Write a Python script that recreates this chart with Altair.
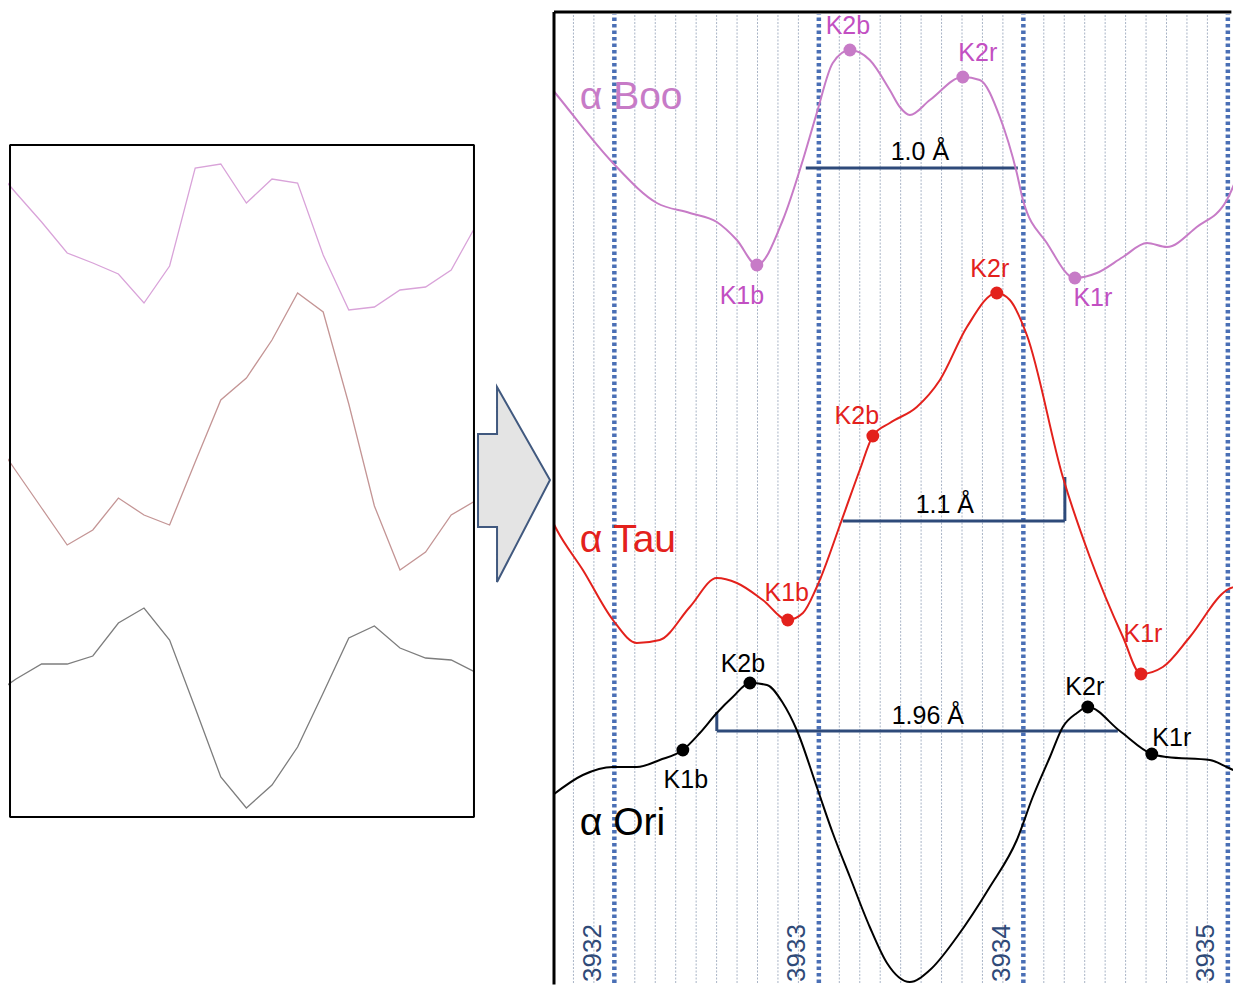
import altair as alt
import pandas as pd

FONT = "Liberation Sans"
H = 980
Y_DOMAIN = [0.10, 9.90]

# ---------------- left panel: coarse raw spectra (sample index, relative flux) ----------------
raw_k = list(range(-1, 19))
raw_boo = [8.35, 8.05, 7.76, 7.45, 7.35, 7.24, 6.95, 7.32, 8.30, 8.34,
           7.95, 8.19, 8.15, 7.43, 6.88, 6.91, 7.08, 7.11, 7.28, 7.74]
raw_tau = [5.64, 5.27, 4.90, 4.53, 4.68, 5.00, 4.83, 4.73, 5.36, 5.98,
           6.20, 6.58, 7.05, 6.86, 5.94, 4.92, 4.28, 4.46, 4.83, 4.98]
raw_ori = [3.01, 3.19, 3.34, 3.34, 3.42, 3.75, 3.90, 3.58, 2.90, 2.21,
           1.90, 2.13, 2.51, 3.05, 3.60, 3.72, 3.50, 3.40, 3.38, 3.25]
LEFT_X = [-0.3125, 17.93]
box_x = [-0.234, 17.89]
box_y = [1.81, 8.53]

# ---------------- arrow glyph (normalised outline) ----------------
ARROW_PATH = ("M -0.369 -0.518 L -0.174 -0.518 L -0.174 -1 L 0.369 -0.046 "
              "L -0.174 1 L -0.174 0.436 L -0.369 0.436 Z")
arrow_pos_x = [0.5]
arrow_pos_y = [5.135]

# ---------------- right panel: smoothed spectra (wavelength in Å, relative flux) ----------------
wl_boo = [3931.699, 3931.719, 3931.993, 3932.208, 3932.369, 3932.501, 3932.599, 3932.697,
          3932.824, 3932.922, 3932.990, 3933.068, 3933.152, 3933.249, 3933.347, 3933.396,
          3933.445, 3933.543, 3933.704, 3933.787, 3933.885, 3933.968, 3933.998, 3934.115,
          3934.252, 3934.359, 3934.487, 3934.604, 3934.702, 3934.848, 3934.995, 3935.073]
fx_boo = [9.08, 9.03, 8.35, 7.95, 7.85, 7.76, 7.58, 7.33,
          7.78, 8.38, 8.85, 9.35, 9.48, 9.38, 9.08, 8.91,
          8.83, 8.98, 9.21, 9.18, 8.81, 8.25, 7.98, 7.55,
          7.20, 7.25, 7.41, 7.55, 7.51, 7.71, 7.98, 8.36]

wl_tau = [3931.699, 3931.719, 3931.846, 3931.993, 3932.110, 3932.222, 3932.369, 3932.501,
          3932.599, 3932.726, 3932.848, 3932.922, 3932.990, 3933.112, 3933.200, 3933.264,
          3933.347, 3933.479, 3933.592, 3933.724, 3933.870, 3933.934, 3934.017, 3934.193,
          3934.325, 3934.487, 3934.575, 3934.682, 3934.814, 3934.995, 3935.073]
fx_tau = [4.76, 4.68, 4.28, 3.78, 3.55, 3.58, 3.91, 4.20,
          4.15, 3.98, 3.78, 3.85, 4.11, 4.78, 5.28, 5.62,
          5.75, 5.91, 6.18, 6.71, 7.05, 6.98, 6.63, 5.21,
          4.41, 3.61, 3.24, 3.31, 3.61, 4.08, 4.13]

wl_ori = [3931.699, 3931.846, 3931.993, 3932.110, 3932.222, 3932.335, 3932.418, 3932.501,
          3932.579, 3932.663, 3932.746, 3932.824, 3932.892, 3932.990, 3933.068, 3933.152,
          3933.249, 3933.333, 3933.445, 3933.543, 3933.675, 3933.836, 3933.968, 3934.046,
          3934.130, 3934.193, 3934.262, 3934.315, 3934.472, 3934.628,
          3934.702, 3934.912, 3934.995, 3935.073]
fx_ori = [2.03, 2.23, 2.31, 2.31, 2.38, 2.48, 2.65, 2.85,
          3.01, 3.15, 3.13, 2.95, 2.68, 2.11, 1.65, 1.21,
          0.71, 0.35, 0.16, 0.28, 0.61, 1.11, 1.58, 2.01,
          2.41, 2.71, 2.85, 2.91, 2.67, 2.44,
          2.41, 2.38, 2.31, 2.23]

k_names = ["K1b", "K2b", "K2r", "K1r"]
k_boo_wl = [3932.697, 3933.152, 3933.704, 3934.252]
k_boo_fx = [7.33, 9.48, 9.21, 7.20]
k_tau_wl = [3932.848, 3933.264, 3933.870, 3934.575]
k_tau_fx = [3.78, 5.62, 7.05, 3.24]
k_ori_wl = [3932.335, 3932.663, 3934.315, 3934.628]
k_ori_fx = [2.48, 3.15, 2.91, 2.44]

stars = ["α Boo", "α Tau", "α Ori"]
star_label_fx = [9.01, 4.58, 1.75]

sep_labels = ["1.0 Å", "1.1 Å", "1.96 Å"]
sep_start = [3932.936, 3933.117, 3932.501]
sep_end = [3933.973, 3934.203, 3934.462]
sep_level = [8.30, 4.77, 2.67]
sep_label_wl = [3933.494, 3933.616, 3933.533]
sep_label_fx = [8.46, 4.93, 2.82]
tick_x = [3934.203, 3932.501]
tick_y0 = [4.77, 2.67]
tick_y1 = [5.21, 2.86]

major_wl = [3932, 3933, 3934, 3935]
RIGHT_W = 680
RIGHT_X = [3931.7, 3931.7 + RIGHT_W / 204.5]
FRAME_TOP = 9.86

star_colors = {"α Boo": "#c77bc7", "α Tau": "#e3211c", "α Ori": "#000000"}
point_colors = {"α Boo": "#d96bd9", "α Tau": "#ff0000", "α Ori": "#000000"}
text_colors = {"α Boo": "#c24fc2", "α Tau": "#e3211c", "α Ori": "#000000"}

label_offsets = {
    ("α Boo", "K1b"): (-15, 31), ("α Boo", "K2b"): (-2, -24),
    ("α Boo", "K2r"): (15, -24), ("α Boo", "K1r"): (18, 20),
    ("α Tau", "K1b"): (-1, -27), ("α Tau", "K2b"): (-16, -20),
    ("α Tau", "K2r"): (-7, -24), ("α Tau", "K1r"): (2, -40),
    ("α Ori", "K1b"): (3, 30), ("α Ori", "K2b"): (-7, -19),
    ("α Ori", "K2r"): (-3, -20), ("α Ori", "K1r"): (20, -16),
}

# inner limits so no stroke overflows the page
Y_IN_LO = Y_DOMAIN[0] + 0.05
Y_IN_HI = FRAME_TOP - 0.02

# ================= build left panel =================
raw_df = pd.concat([
    pd.DataFrame({"k": raw_k, "f": raw_boo, "s": "boo"}),
    pd.DataFrame({"k": raw_k, "f": raw_tau, "s": "tau"}),
    pd.DataFrame({"k": raw_k, "f": raw_ori, "s": "ori"}),
])
lx = alt.Scale(domain=LEFT_X, nice=False, zero=False)
ly = alt.Scale(domain=Y_DOMAIN, nice=False, zero=False)

left_lines = alt.Chart(raw_df).mark_line(clip=True, strokeWidth=1.3).encode(
    x=alt.X("k:Q", scale=lx, axis=None),
    y=alt.Y("f:Q", scale=ly, axis=None),
    color=alt.Color("s:N", scale=alt.Scale(domain=["boo", "tau", "ori"],
                                           range=["#d9a3d9", "#c49595", "#7d7d7d"]), legend=None),
    detail="s:N",
)
left_box = alt.Chart(pd.DataFrame({"x0": [box_x[0]], "x1": [box_x[1]],
                                   "y0": [box_y[0]], "y1": [box_y[1]]})).mark_rect(
    fill=None, stroke="black", strokeWidth=2, strokeJoin="bevel").encode(
    x=alt.X("x0:Q", scale=lx, axis=None), x2="x1:Q",
    y=alt.Y("y0:Q", scale=ly, axis=None), y2="y1:Q")
left_panel = alt.layer(left_lines, left_box).properties(width=467, height=H)

# ================= arrow panel =================
arrow_panel = alt.Chart(pd.DataFrame({"x": arrow_pos_x, "y": arrow_pos_y})).mark_point(
    shape=ARROW_PATH, size=38025, filled=True, fill="#e4e4e4", stroke="#41597f",
    strokeWidth=2, opacity=1, fillOpacity=1, strokeOpacity=1, strokeJoin="miter").encode(
    x=alt.X("x:Q", scale=alt.Scale(domain=[0, 1], nice=False, zero=False), axis=None),
    y=alt.Y("y:Q", scale=alt.Scale(domain=Y_DOMAIN, nice=False, zero=False), axis=None),
).properties(width=78, height=H)

# ================= right panel =================
rx = alt.Scale(domain=RIGHT_X, nice=False, zero=False)
ry = alt.Scale(domain=Y_DOMAIN, nice=False, zero=False)
X = lambda f: alt.X(f, scale=rx, axis=None)
Y = lambda f: alt.Y(f, scale=ry, axis=None)

minor = [round(3931.8 + 0.1 * i, 1) for i in range(33)]
minor = [m for m in minor if abs(m - round(m)) > 1e-6]
grid = alt.Chart(pd.DataFrame({"wl": minor, "a": Y_IN_LO, "b": Y_IN_HI})).mark_rule(
    color="#a9b4c6", strokeWidth=1, strokeDash=[2, 1.5]).encode(x=X("wl:Q"), y=Y("a:Q"), y2="b:Q")
major = alt.Chart(pd.DataFrame({"wl": major_wl, "a": Y_IN_LO, "b": Y_IN_HI})).mark_rule(
    color="#4a6fb5", strokeWidth=4.5, strokeDash=[3.5, 3]).encode(x=X("wl:Q"), y=Y("a:Q"), y2="b:Q")

major_lbl = alt.Chart(pd.DataFrame({"wl": major_wl, "t": [str(v) for v in major_wl]})).transform_calculate(
    xp="datum.wl - 0.105", yp="0.45").mark_text(
    angle=270, font=FONT, fontSize=26, color="#2f4a78", align="center", baseline="middle").encode(
    x=X("xp:Q"), y=Y("yp:Q"), text="t:N")

curves_df = pd.concat([
    pd.DataFrame({"wl": wl_boo, "f": fx_boo, "s": "α Boo"}),
    pd.DataFrame({"wl": wl_tau, "f": fx_tau, "s": "α Tau"}),
    pd.DataFrame({"wl": wl_ori, "f": fx_ori, "s": "α Ori"}),
])
curves = alt.Chart(curves_df).mark_line(clip=True, strokeWidth=2, interpolate="monotone").encode(
    x=X("wl:Q"), y=Y("f:Q"),
    color=alt.Color("s:N", scale=alt.Scale(domain=stars, range=[star_colors[s] for s in stars]), legend=None),
    detail="s:N")

kp_df = pd.concat([
    pd.DataFrame({"wl": k_boo_wl, "f": k_boo_fx, "k": k_names, "s": "α Boo"}),
    pd.DataFrame({"wl": k_tau_wl, "f": k_tau_fx, "k": k_names, "s": "α Tau"}),
    pd.DataFrame({"wl": k_ori_wl, "f": k_ori_fx, "k": k_names, "s": "α Ori"}),
])
kpoints = alt.Chart(kp_df).mark_circle(size=165, opacity=1).encode(
    x=X("wl:Q"), y=Y("f:Q"),
    color=alt.Color("s:N", scale=alt.Scale(domain=stars, range=[point_colors[s] for s in stars]), legend=None))

klabels = []
for (s, k), (dx, dy) in label_offsets.items():
    klabels.append(
        alt.Chart(kp_df).transform_filter(
            (alt.datum.s == s) & (alt.datum.k == k)).mark_text(
            font=FONT, fontSize=25, color=text_colors[s], dx=dx, dy=dy,
            align="center", baseline="middle").encode(x=X("wl:Q"), y=Y("f:Q"), text="k:N"))

names = alt.Chart(pd.DataFrame({"s": stars, "f": star_label_fx,
                                "wl": [3931.831] * 3})).mark_text(
    font=FONT, fontSize=39, align="left", baseline="middle").encode(
    x=X("wl:Q"), y=Y("f:Q"), text="s:N",
    color=alt.Color("s:N", scale=alt.Scale(domain=stars, range=[text_colors[s] for s in stars]), legend=None))

sep_df = pd.DataFrame({"a": sep_start, "b": sep_end, "lvl": sep_level, "t": sep_labels,
                       "lw": sep_label_wl, "lf": sep_label_fx})
sep_h = alt.Chart(sep_df).mark_rule(color="#2e4a7a", strokeWidth=3).encode(
    x=X("a:Q"), x2="b:Q", y=Y("lvl:Q"))
sep_v = alt.Chart(pd.DataFrame({"x": tick_x, "y0": tick_y0, "y1": tick_y1})).mark_rule(
    color="#2e4a7a", strokeWidth=3).encode(x=X("x:Q"), y=Y("y0:Q"), y2="y1:Q")
sep_t = alt.Chart(sep_df).mark_text(font=FONT, fontSize=25, color="black",
                                     align="center", baseline="middle").encode(
    x=X("lw:Q"), y=Y("lf:Q"), text="t:N")

border_left = alt.Chart(pd.DataFrame({"x": [RIGHT_X[0] + 0.0049],
                                      "a": [Y_DOMAIN[0] + 0.035], "b": [FRAME_TOP]})).mark_rule(
    color="black", strokeWidth=3).encode(x=X("x:Q"), y=Y("a:Q"), y2="b:Q")
border_top = alt.Chart(pd.DataFrame({"y": [FRAME_TOP],
                                     "a": [RIGHT_X[0] + 0.0049], "b": [RIGHT_X[1] - 0.008]})).mark_rule(
    color="black", strokeWidth=3).encode(y=Y("y:Q"), x=X("a:Q"), x2="b:Q")

right_panel = alt.layer(
    grid, major, major_lbl, sep_h, sep_v, curves, kpoints, *klabels, names, sep_t,
    border_left, border_top
).properties(width=RIGHT_W, height=H)

chart = alt.hconcat(left_panel, arrow_panel, right_panel, spacing=0, bounds="flush").resolve_scale(
    color="independent"
).properties(
    padding={"left": 0, "top": 0, "right": 0, "bottom": 0}, background="white"
).configure_view(stroke=None)

chart.save("out.html", embed_options={"renderer": "svg", "actions": False})
